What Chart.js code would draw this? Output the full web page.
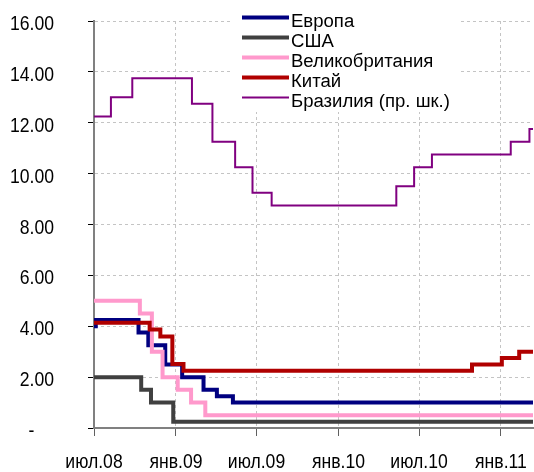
<!DOCTYPE html>
<html><head><meta charset="utf-8">
<script src="https://cdn.jsdelivr.net/npm/chart.js@4/dist/chart.umd.min.js"></script>
<style>html,body{margin:0;padding:0;background:#fff}#wrap{position:relative;width:534px;height:472px}</style>
</head><body><div id="wrap"><canvas id="c" width="534" height="472"></canvas></div>
<script>
const seriesNames = ['Европа', 'США', 'Великобритания', 'Китай', 'Бразилия (пр. шк.)'];
const seriesColors = ['#000080', '#404040', '#ff99cc', '#b00000', '#800080'];

const startDate = '2008-07-01';
const endDate = '2011-03-14';

const europeDates = ['2008-07-01', '2008-07-05', '2008-10-09', '2008-10-31', '2008-12-08', '2009-01-15', '2009-03-04', '2009-04-03', '2009-05-09'];
const europeRates = [4.00, 4.25, 3.75, 3.25, 2.50, 2.00, 1.50, 1.25, 1.00];

const usaDates = ['2008-07-01', '2008-10-15', '2008-11-06', '2008-12-26'];
const usaRates = [2.00, 1.50, 1.00, 0.25];

const ukDates = ['2008-07-01', '2008-10-12', '2008-11-08', '2008-12-02', '2009-01-05', '2009-02-04', '2009-03-08'];
const ukRates = [5.00, 4.50, 3.00, 2.00, 1.50, 1.00, 0.50];

const chinaDates = ['2008-07-01', '2008-11-03', '2008-11-27', '2008-12-24', '2009-01-18', '2010-10-28', '2011-01-03', '2011-02-11'];
const chinaRates = [4.14, 3.87, 3.60, 2.52, 2.25, 2.50, 2.75, 3.00];

const brazilDates = ['2008-07-01', '2008-08-08', '2008-09-25', '2009-02-06', '2009-03-24', '2009-05-14', '2009-06-22', '2009-08-04', '2010-05-11', '2010-06-20', '2010-07-30', '2011-01-23', '2011-03-06'];
const brazilRates = [12.25, 13.00, 13.75, 12.75, 11.25, 10.25, 9.25, 8.75, 9.50, 10.25, 10.75, 11.25, 11.75];

const xTickDates = ['2008-07-01', '2009-01-01', '2009-07-01', '2010-01-01', '2010-07-01', '2011-01-01'];
const xTickLabels = ['июл.08', 'янв.09', 'июл.09', 'янв.10', 'июл.10', 'янв.11'];
const yTickValues = [0, 2, 4, 6, 8, 10, 12, 14, 16];
const yTickLabels = ['-    ', '2.00', '4.00', '6.00', '8.00', '10.00', '12.00', '14.00', '16.00'];

const DAY = 86400000;
function dayNum(s) {
  const [y, m, d] = s.split('-').map(Number);
  const [y0, m0, d0] = startDate.split('-').map(Number);
  return Math.round((Date.UTC(y, m - 1, d) - Date.UTC(y0, m0 - 1, d0)) / DAY);
}
const endDay = dayNum(endDate);
function stepSeries(dates, rates) {
  const pts = dates.map((d, i) => ({ x: dayNum(d), y: rates[i] }));
  pts.push({ x: endDay, y: rates[rates.length - 1] });
  return pts;
}
const allDates = [europeDates, usaDates, ukDates, chinaDates, brazilDates];
const allRates = [europeRates, usaRates, ukRates, chinaRates, brazilRates];
const widths = [4, 4, 4, 4, 2];

const datasets = seriesNames.map((name, i) => ({
  label: name,
  data: stepSeries(allDates[i], allRates[i]),
  borderColor: seriesColors[i],
  backgroundColor: seriesColors[i],
  borderWidth: widths[i],
  stepped: true,
  pointRadius: 0,
  fill: false,
  borderJoinStyle: 'miter',
  borderCapStyle: 'butt',
  order: seriesNames.length - i
}));

const FONT_FAMILY = "'Liberation Sans', Arial, sans-serif";
const tickFontSize = 20;
const tickSqueeze = 0.88;
const legendFontSize = 18;
const legendStretch = 1.03;

function zeroPad(s) { s.paddingTop = 0; s.paddingBottom = 0; s.paddingLeft = 0; s.paddingRight = 0; }

const labelPlugin = {
  id: 'condensedLabels',
  afterDraw(chart) {
    const ctx = chart.ctx;
    const xs = chart.scales.x, ys = chart.scales.y;
    ctx.save();
    ctx.fillStyle = '#000';
    ctx.font = tickFontSize + 'px ' + FONT_FAMILY;
    ctx.textBaseline = 'alphabetic';
    // y labels
    ctx.textAlign = 'right';
    yTickValues.forEach((v, i) => {
      const py = ys.getPixelForValue(v);
      ctx.save();
      ctx.translate(ys.right - 40, py + 9);
      ctx.scale(tickSqueeze, 1);
      ctx.fillText(yTickLabels[i], 0, 0);
      ctx.restore();
    });
    // x labels
    ctx.textAlign = 'center';
    xTickDates.forEach((d, i) => {
      const px = xs.getPixelForValue(dayNum(d));
      ctx.save();
      ctx.translate(px, xs.top + 40);
      ctx.scale(tickSqueeze, 1);
      ctx.fillText(xTickLabels[i], 0, 0);
      ctx.restore();
    });
    ctx.restore();
  }
};

const legendPlugin = {
  id: 'boxLegend',
  beforeDatasetsDraw(chart) {
    const ctx = chart.ctx;
    ctx.save();
    ctx.fillStyle = '#ffffff';
    ctx.fillRect(231, 0, 229, 112);
    ctx.restore();
  },
  afterDraw(chart) {
    const ctx = chart.ctx;
    ctx.save();
    chart.data.datasets.forEach((ds, i) => {
      const y = 17.5 + i * 20;
      ctx.beginPath();
      ctx.strokeStyle = ds.borderColor;
      ctx.lineWidth = ds.borderWidth;
      ctx.lineCap = 'butt';
      ctx.moveTo(242, y);
      ctx.lineTo(289, y);
      ctx.stroke();
      ctx.save();
      ctx.fillStyle = '#000';
      ctx.font = legendFontSize + 'px ' + FONT_FAMILY;
      ctx.textBaseline = 'alphabetic';
      ctx.textAlign = 'left';
      ctx.translate(291, y + 9.5);
      ctx.scale(legendStretch, 1);
      ctx.fillText(ds.label, 0, 0);
      ctx.restore();
    });
    ctx.restore();
  }
};

new Chart(document.getElementById('c'), {
  type: 'line',
  data: { datasets },
  options: {
    responsive: false,
    devicePixelRatio: 1,
    animation: false,
    events: [],
    layout: { padding: { top: 21, right: 1, left: 0, bottom: 0 } },
    plugins: { legend: { display: false }, tooltip: { enabled: false } },
    scales: {
      x: {
        type: 'linear',
        min: 0,
        max: endDay,
        afterBuildTicks: s => { s.ticks = xTickDates.map(d => ({ value: dayNum(d) })); },
        afterFit: s => { s.height = 44; zeroPad(s); },
        ticks: { display: false },
        grid: { color: '#c4c4c4', tickColor: '#606060', tickLength: 8, lineWidth: 1 },
        border: { color: '#808080', width: 2, dash: [3, 3] }
      },
      y: {
        type: 'linear',
        min: 0,
        max: 16,
        afterBuildTicks: s => { s.ticks = yTickValues.map(v => ({ value: v })); },
        afterFit: s => { s.width = 94; zeroPad(s); },
        ticks: { display: false },
        grid: { color: '#c4c4c4', tickColor: '#000', tickLength: 6, lineWidth: 1 },
        border: { color: '#808080', width: 2, dash: [3, 3] }
      }
    }
  },
  plugins: [legendPlugin, labelPlugin]
});
</script>
</body></html>
